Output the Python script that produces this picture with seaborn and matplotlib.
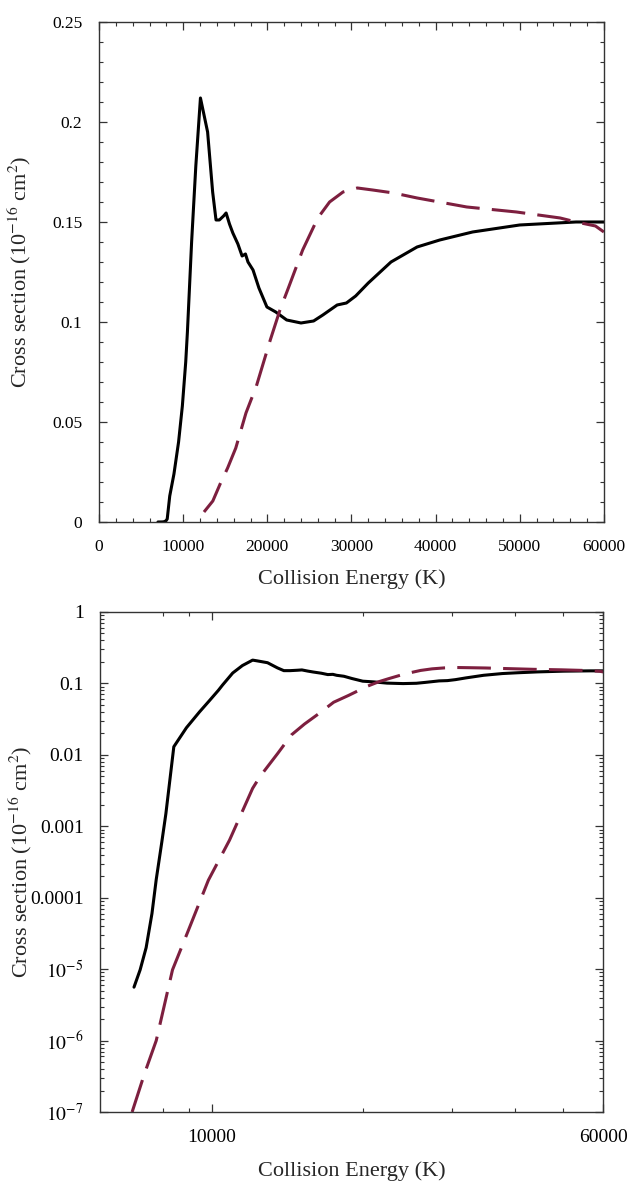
import matplotlib
matplotlib.use("Agg")
import matplotlib.pyplot as plt
import matplotlib.ticker as mticker
import numpy as np
import pandas as pd
import seaborn as sns

# solid curve (black)
solid_energy = [7000, 7200, 7400, 7600, 7750, 7950, 8100, 8400, 8900, 9450,
                9900, 10300, 10500, 11000, 11500, 12050, 12300, 12900, 13500, 13900,
                14300, 14800, 15100, 15500, 15900, 16500, 17000, 17400, 17700, 18300,
                19000, 19950, 21000, 22300, 24000, 25500, 26600, 28300, 29400, 30500,
                32000, 34700, 37800, 40500, 44400, 50000, 56700, 60000]
solid_sigma = [5.6e-6, 9.8e-6, 2.0e-5, 6.0e-5, 1.8e-4, 6.0e-4, 1.5e-3, 1.3e-2, 2.4e-2, 4.0e-2,
               5.8e-2, 8.0e-2, 9.5e-2, 0.140, 0.178, 0.212, 0.207, 0.195, 0.165, 0.151,
               0.151, 0.153, 0.1545, 0.149, 0.1445, 0.139, 0.133, 0.134, 0.130, 0.126,
               0.117, 0.1075, 0.105, 0.101, 0.0995, 0.1005, 0.1035, 0.1085, 0.1095, 0.113,
               0.1195, 0.130, 0.1375, 0.141, 0.145, 0.1485, 0.150, 0.150]

# dashed curve (dark red)
dash_energy = [6940, 7350, 7750, 8350, 8980, 9840, 10840, 12050, 12470, 13520,
               14390, 15280, 16250, 17460, 18700, 20350, 21500, 22500, 24200, 26000,
               27400, 29000, 30700, 32500, 35000, 37800, 43700, 49600, 54800, 56700,
               59000, 60000]
dash_sigma = [1.0e-7, 3.5e-7, 1.0e-6, 9.8e-6, 3.5e-5, 1.76e-4, 6.4e-4, 3.4e-3, 5.0e-3, 1.05e-2,
              1.9e-2, 2.7e-2, 3.7e-2, 5.45e-2, 6.8e-2, 9.1e-2, 0.106, 0.117, 0.136, 0.152,
              0.160, 0.165, 0.167, 0.166, 0.1645, 0.162, 0.1575, 0.155, 0.152, 0.150,
              0.148, 0.145]

lin_yticks = [0, 0.05, 0.1, 0.15, 0.2, 0.25]
lin_ylabels = ["0", "0.05", "0.1", "0.15", "0.2", "0.25"]
lin_xticks = [0, 10000, 20000, 30000, 40000, 50000, 60000]
log_yticks = [1e-7, 1e-6, 1e-5, 1e-4, 1e-3, 1e-2, 1e-1, 1]
log_ylabels = [r"$10^{-7}$", r"$10^{-6}$", r"$10^{-5}$", "0.0001", "0.001", "0.01", "0.1", "1"]
log_xticks = [10000, 60000]
log_xminor = [8000, 9000, 20000, 30000, 40000, 50000]

solid = pd.DataFrame({"energy": solid_energy, "sigma": solid_sigma})
dashed = pd.DataFrame({"energy": dash_energy, "sigma": dash_sigma})

sns.set_style("ticks")
plt.rcParams["font.family"] = ["Liberation Serif", "DejaVu Serif"]
plt.rcParams["mathtext.fontset"] = "stix"

fig = plt.figure(figsize=(6.31, 11.81), dpi=100)
ax1 = fig.add_axes([0.157, 0.558, 0.800, 0.4234])
ax2 = fig.add_axes([0.159, 0.0584, 0.797, 0.4234])

red = "#7d1f3f"
dash_style = (0, (11, 4))
ylab = r"Cross section (10$^{-16}$ cm$^{2}$)"

# linear panel
sns.lineplot(data=solid, x="energy", y="sigma", ax=ax1, color="black", lw=2.2)
sns.lineplot(data=dashed[dashed["sigma"] > 0.004], x="energy", y="sigma", ax=ax1,
             color=red, lw=2.2, linestyle=dash_style)
ax1.set_xlim(0, 60000)
ax1.set_ylim(0, 0.25)
ax1.set_yticks(lin_yticks)
ax1.set_yticklabels(lin_ylabels)
ax1.set_xticks(lin_xticks)
ax1.set_xticklabels([str(t) for t in lin_xticks])
ax1.xaxis.set_minor_locator(mticker.MultipleLocator(2000))
ax1.yaxis.set_minor_locator(mticker.MultipleLocator(0.01))

# log panel
sns.lineplot(data=solid, x="energy", y="sigma", ax=ax2, color="black", lw=2.2)
sns.lineplot(data=dashed, x="energy", y="sigma", ax=ax2, color=red, lw=2.2, linestyle=dash_style)
ax2.set_xscale("log")
ax2.set_yscale("log")
ax2.set_xlim(6000, 60000)
ax2.set_ylim(1e-7, 1)
ax2.set_yticks(log_yticks)
ax2.set_yticklabels(log_ylabels)
ax2.yaxis.set_minor_locator(mticker.LogLocator(base=10, subs=np.arange(2, 10), numticks=20))
ax2.yaxis.set_minor_formatter(mticker.NullFormatter())
ax2.set_xticks(log_xticks)
ax2.set_xticklabels([str(t) for t in log_xticks])
ax2.xaxis.set_minor_locator(mticker.FixedLocator(log_xminor))
ax2.xaxis.set_minor_formatter(mticker.NullFormatter())

for ax, tsize, xl in ((ax1, 12.5, -0.095), (ax2, 14, -0.098)):
    ax.tick_params(which="both", direction="in", top=True, right=True,
                   labelsize=tsize, colors="#333333", labelcolor="black")
    ax.tick_params(which="major", length=6, width=0.9)
    ax.tick_params(axis="x", which="major", pad=12)
    ax.tick_params(axis="y", which="major", pad=12)
    ax.tick_params(which="minor", length=3, width=0.8)
    for sp in ax.spines.values():
        sp.set_linewidth(1.0)
        sp.set_color("#333333")
    ax.set_xlabel("Collision Energy (K)", fontsize=16)
    ax.set_ylabel(ylab, fontsize=16)
    ax.xaxis.set_label_coords(0.5, xl)
    ax.yaxis.set_label_coords(-0.131, 0.5)

fig.savefig("out.png", dpi=100)
